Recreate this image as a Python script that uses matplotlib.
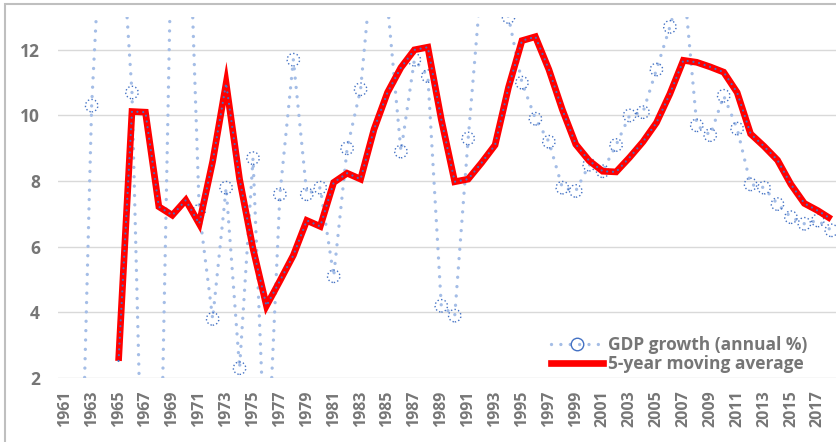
import matplotlib.pyplot as plt
from matplotlib.lines import Line2D
from matplotlib.patches import Rectangle

# -------------------------------
# Datos
# -------------------------------
years = list(range(1961, 2019))
gdp_growth = [-27.3, -5.6, 10.3, 18.2, 17.0, 10.7, -5.7, -4.1, 16.9, 19.3,
              7.1, 3.8, 7.8, 2.3, 8.7, -1.6, 7.6, 11.7, 7.6, 7.8,
              5.1, 9.0, 10.8, 15.2, 13.4, 8.9, 11.7, 11.2, 4.2, 3.9,
              9.3, 14.2, 13.9, 13.0, 11.0, 9.9, 9.2, 7.8, 7.7, 8.5,
              8.3, 9.1, 10.0, 10.1, 11.4, 12.7, 14.2, 9.7, 9.4, 10.6,
              9.6, 7.9, 7.8, 7.3, 6.9, 6.7, 6.8, 6.5]
ma_years = list(range(1965, 2019))
moving_avg = [2.52, 10.12, 10.10, 7.22, 6.96, 7.42, 6.70, 8.60, 10.98, 8.06,
              5.94, 4.20, 4.96, 5.74, 6.80, 6.62, 7.96, 8.24, 8.06, 9.58,
              10.70, 11.46, 12.00, 12.08, 9.88, 7.98, 8.06, 8.56, 9.10, 10.86,
              12.28, 12.40, 11.40, 10.18, 9.12, 8.62, 8.30, 8.28, 8.72, 9.20,
              9.78, 10.66, 11.68, 11.62, 11.48, 11.32, 10.70, 9.44, 9.06, 8.64,
              7.90, 7.32, 7.10, 6.84]
tick_years = list(range(1961, 2018, 2))

plt.rcParams['font.family'] = ['Open Sans', 'DejaVu Sans']
plt.rcParams['font.weight'] = 'bold'
gris = '#767676'
azul_claro = '#a4bde6'
azul = '#4472c4'

fig = plt.figure(figsize=(8.36, 4.42), dpi=100)
fig.patches.append(Rectangle((0.006, -0.05), 1.1, 1.041, transform=fig.transFigure,
                             fill=False, edgecolor='#bfbfbf', linewidth=1.5))
ax = fig.add_axes([0.0694, 0.1448, 0.933, 0.8167])

# serie anual (punteada)
ax.plot(years, gdp_growth, color=azul_claro, linewidth=2.4,
        linestyle=(0, (0.01, 2.8)), dash_capstyle='round', zorder=2)
ax.scatter(years, gdp_growth, s=80, facecolors='none', edgecolors=azul,
           linewidths=1.0, linestyles=':', zorder=3)

# media movil
ax.plot(ma_years, moving_avg, color='#ff0000', linewidth=4.8,
        solid_capstyle='butt', solid_joinstyle='miter', zorder=4)
ax.plot(ma_years, moving_avg, color=azul, linewidth=1.6,
        linestyle=(0, (0.01, 2.6)), dash_capstyle='round', zorder=5)

ax.set_xlim(1960.5, 2018.5)
ax.set_ylim(2, 13)
ax.set_yticks([2, 4, 6, 8, 10, 12])
ax.set_xticks(tick_years)
ax.set_xticklabels([str(y) for y in tick_years], rotation=90)
ax.tick_params(axis='y', length=0, pad=13, labelsize=12.5, labelcolor=gris)
ax.tick_params(axis='x', length=0, pad=9, labelsize=11.5, labelcolor=gris)
ax.grid(axis='y', color='#d9d9d9', linewidth=1.0)
ax.set_axisbelow(True)
for s in ax.spines.values():
    s.set_visible(False)

handles = [
    Line2D([], [], color=azul_claro, linewidth=2.4, linestyle=(0, (0.01, 2.8)),
           dash_capstyle='round', marker='o', markersize=9, markerfacecolor='none',
           markeredgecolor=azul, markeredgewidth=1.0),
    Line2D([], [], color='#ff0000', linewidth=4.8),
]
leg = ax.legend(handles, ['GDP growth (annual %)', '5-year moving average'],
                loc='lower right', bbox_to_anchor=(0.972, -0.01), frameon=False,
                fontsize=12.5, handlelength=3.0, handletextpad=0.3,
                labelspacing=0.05, borderpad=0)
for t in leg.get_texts():
    t.set_color(gris)

fig.savefig('out.png', dpi=100)
